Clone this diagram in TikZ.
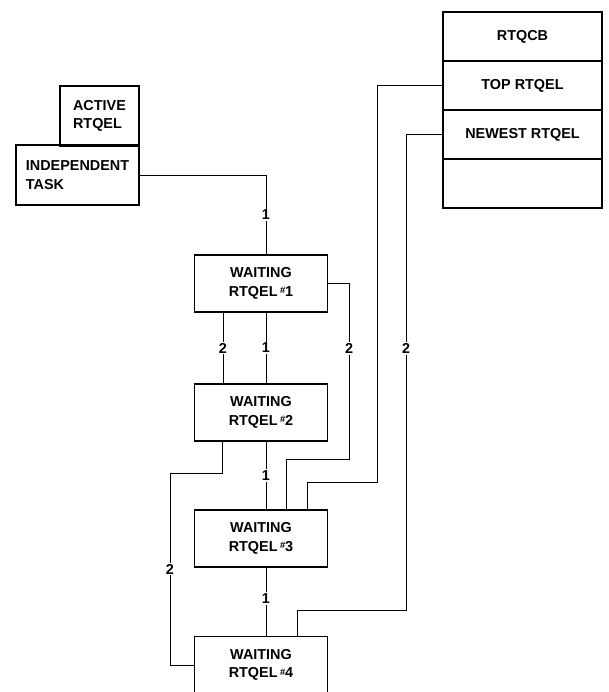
\documentclass[tikz,border=0pt]{standalone}
\usepackage{fontspec}
\setmainfont{Liberation Sans}
\usetikzlibrary{positioning}
\newcommand{\nr}[1]{\,\raisebox{.35ex}{\scriptsize\#}#1}

\begin{document}
\begin{tikzpicture}[x=0.75pt,y=-0.75pt,
    box/.style={draw,line width=1.2pt,outer sep=0pt,inner sep=0pt,
        font=\fontsize{10.8}{14}\selectfont\bfseries,align=center},
    wait/.style={box,minimum width=99.75pt,minimum height=42.75pt},
    cell/.style={box,minimum width=119.25pt,minimum height=36.75pt},
    link/.style={line width=0.7pt},
    lbl/.style={fill=white,inner sep=1pt,font=\fontsize{10.8}{12}\selectfont\bfseries}]
\useasboundingbox (0,0) rectangle (609,692);
\clip (0,0) rectangle (609,692);

% task and its active rtqel
\node[box,minimum width=59.25pt,minimum height=45pt,align=left] (active) at (99.5,116) {ACTIVE\\RTQEL};
\node[box,minimum width=92.25pt,minimum height=45pt,align=left] (indep) at (77.5,175) {INDEPENDENT\\TASK};

% rtqcb
\node[cell] (cb1) at (522.5,36.5) {RTQCB};
\node[cell,below=0pt of cb1] (cb2) {TOP RTQEL};
\node[cell,below=0pt of cb2] (cb3) {NEWEST RTQEL};
\node[cell,below=0pt of cb3] (cb4) {};

% waiting queue
\foreach \n/\y in {1/283.5,2/412.5,3/538.5,4/665}
{
    \node[wait] (w\n) at (261,\y) {WAITING\\RTQEL\nr{\n}};
}

% links 1
\draw[link] (indep.east) -| node[lbl,pos=.75]{1} (266,0 |- w1.north);
\draw[link] (266,0 |- w1.south) -- node[lbl]{1} (266,0 |- w2.north);
\draw[link] (266,0 |- w2.south) -- node[lbl]{1} (266,0 |- w3.north);
\draw[link] (266,0 |- w3.south) -- node[lbl,pos=.45]{1} (266,0 |- w4.north);

% links 2
\draw[link] (223,0 |- w1.south) -- node[lbl]{2} (223,0 |- w2.north);
\draw[link] (w1.east) -- (349,283.5) -- node[lbl,pos=.37]{2} (349,459) -| (286,0 |- w3.north);
\draw[link] (222,0 |- w2.south) |- (170,473) |- node[lbl,pos=.25]{2} (w4.west);
\draw[link] (cb2.west) -| (377,482) -| (307,0 |- w3.north);
\draw[link] (cb3.west) -| node[lbl,pos=.725]{2} (406,610) -| (297,0 |- w4.north);
\end{tikzpicture}
\end{document}
